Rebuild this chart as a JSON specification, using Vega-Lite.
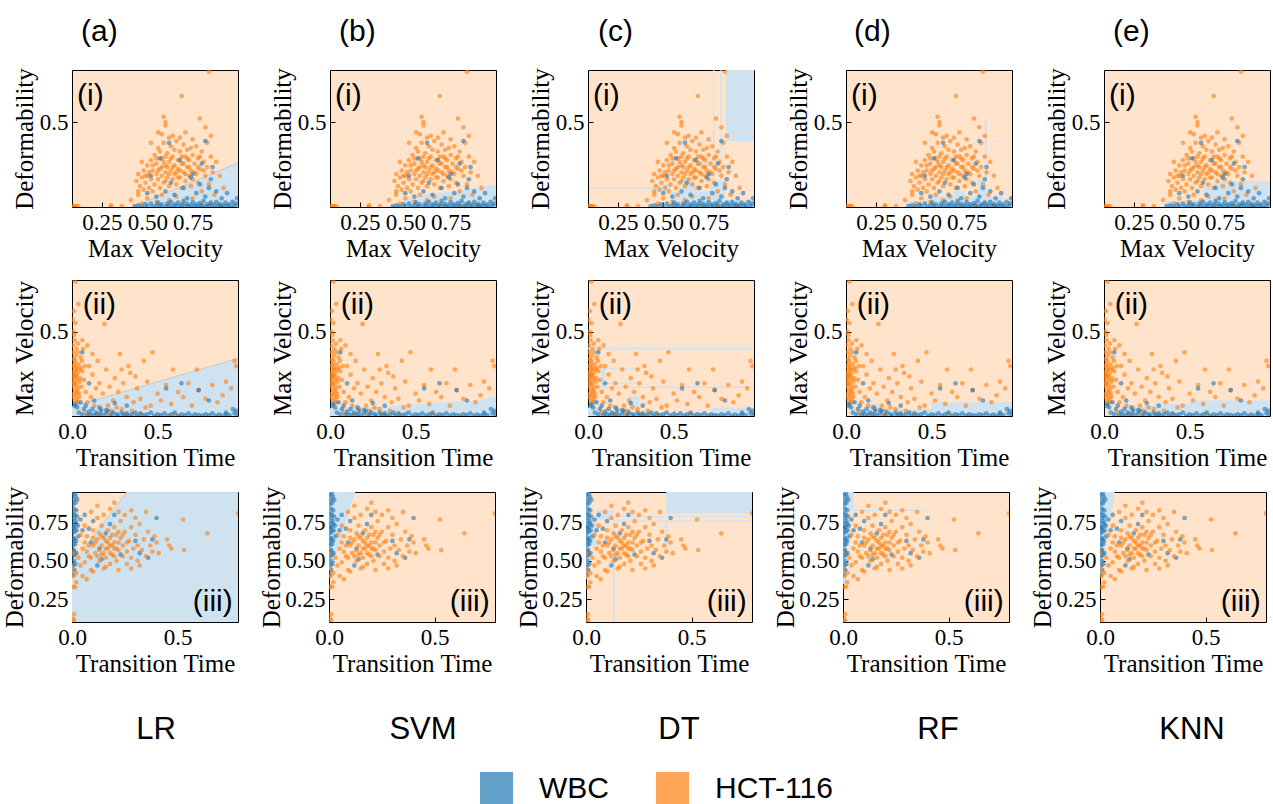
{
"$schema":"https://vega.github.io/schema/vega-lite/v6.json",
"padding":{"left":2,"top":16,"right":2,"bottom":0},
"config":{
 "view":{"fill":"#ffe3cb","stroke":"#000000","strokeWidth":1},
 "axis":{"labelFont":"Liberation Serif","labelFontSize":23,"titleFont":"Liberation Serif","titleFontSize":25,"titleFontWeight":"normal","labelColor":"#000","titleColor":"#000","tickColor":"#000","tickSize":-5,"labelPadding":9,"domain":false,"grid":false,"titlePadding":2,"labelFlush":false,"labelOverlap":false},
 "title":{"font":"Liberation Sans","fontSize":30,"fontWeight":"normal","color":"#000","frame":"group"},
 "legend":{"orient":"none","legendX":408,"legendY":702,"direction":"horizontal","title":null,"symbolType":"square","symbolSize":1089,"symbolOpacity":0.7,"symbolStrokeWidth":0,"labelFont":"Liberation Sans","labelFontSize":30,"labelOffset":26,"columnPadding":47,"labelColor":"#000"}
},
"datasets":{
"r1":[
{"x":0.09,"y":0.015,"c":"HCT-116"},{"x":0.1,"y":0.015,"c":"HCT-116"},{"x":0.11,"y":0.015,"c":"HCT-116"},{"x":0.12,"y":0.012,"c":"HCT-116"},{"x":0.3,"y":0.02,"c":"HCT-116"},{"x":0.3,"y":0.012,"c":"HCT-116"},{"x":0.36,"y":0.015,"c":"HCT-116"},
{"x":0.41,"y":0.05,"c":"HCT-116"},{"x":0.45,"y":0.08,"c":"HCT-116"},{"x":0.47,"y":0.03,"c":"HCT-116"},{"x":0.5,"y":0.06,"c":"HCT-116"},{"x":0.48,"y":0.11,"c":"HCT-116"},
{"x":0.44,"y":0.16,"c":"HCT-116"},{"x":0.45,"y":0.2,"c":"HCT-116"},{"x":0.46,"y":0.13,"c":"HCT-116"},{"x":0.47,"y":0.18,"c":"HCT-116"},{"x":0.48,"y":0.22,"c":"HCT-116"},{"x":0.49,"y":0.15,"c":"HCT-116"},{"x":0.5,"y":0.25,"c":"HCT-116"},{"x":0.5,"y":0.19,"c":"HCT-116"},{"x":0.51,"y":0.12,"c":"HCT-116"},{"x":0.52,"y":0.28,"c":"HCT-116"},{"x":0.52,"y":0.17,"c":"HCT-116"},{"x":0.53,"y":0.22,"c":"HCT-116"},{"x":0.53,"y":0.1,"c":"HCT-116"},{"x":0.54,"y":0.31,"c":"HCT-116"},{"x":0.54,"y":0.14,"c":"HCT-116"},{"x":0.55,"y":0.2,"c":"HCT-116"},{"x":0.55,"y":0.26,"c":"HCT-116"},{"x":0.56,"y":0.35,"c":"HCT-116"},{"x":0.56,"y":0.17,"c":"HCT-116"},{"x":0.57,"y":0.23,"c":"HCT-116"},{"x":0.57,"y":0.12,"c":"HCT-116"},{"x":0.58,"y":0.29,"c":"HCT-116"},{"x":0.58,"y":0.19,"c":"HCT-116"},{"x":0.59,"y":0.38,"c":"HCT-116"},{"x":0.59,"y":0.15,"c":"HCT-116"},{"x":0.6,"y":0.25,"c":"HCT-116"},{"x":0.6,"y":0.21,"c":"HCT-116"},{"x":0.61,"y":0.32,"c":"HCT-116"},{"x":0.61,"y":0.18,"c":"HCT-116"},{"x":0.62,"y":0.27,"c":"HCT-116"},{"x":0.62,"y":0.13,"c":"HCT-116"},{"x":0.63,"y":0.36,"c":"HCT-116"},{"x":0.63,"y":0.22,"c":"HCT-116"},{"x":0.64,"y":0.3,"c":"HCT-116"},{"x":0.64,"y":0.17,"c":"HCT-116"},{"x":0.65,"y":0.25,"c":"HCT-116"},{"x":0.65,"y":0.2,"c":"HCT-116"},{"x":0.66,"y":0.39,"c":"HCT-116"},{"x":0.66,"y":0.14,"c":"HCT-116"},{"x":0.67,"y":0.28,"c":"HCT-116"},{"x":0.67,"y":0.23,"c":"HCT-116"},{"x":0.68,"y":0.33,"c":"HCT-116"},{"x":0.68,"y":0.18,"c":"HCT-116"},{"x":0.69,"y":0.26,"c":"HCT-116"},{"x":0.69,"y":0.12,"c":"HCT-116"},{"x":0.7,"y":0.37,"c":"HCT-116"},{"x":0.7,"y":0.21,"c":"HCT-116"},{"x":0.71,"y":0.3,"c":"HCT-116"},{"x":0.71,"y":0.16,"c":"HCT-116"},{"x":0.72,"y":0.24,"c":"HCT-116"},{"x":0.72,"y":0.34,"c":"HCT-116"},{"x":0.73,"y":0.19,"c":"HCT-116"},{"x":0.73,"y":0.28,"c":"HCT-116"},{"x":0.74,"y":0.22,"c":"HCT-116"},{"x":0.74,"y":0.13,"c":"HCT-116"},{"x":0.75,"y":0.31,"c":"HCT-116"},{"x":0.75,"y":0.17,"c":"HCT-116"},{"x":0.76,"y":0.26,"c":"HCT-116"},{"x":0.77,"y":0.36,"c":"HCT-116"},{"x":0.77,"y":0.2,"c":"HCT-116"},{"x":0.78,"y":0.15,"c":"HCT-116"},{"x":0.78,"y":0.29,"c":"HCT-116"},{"x":0.79,"y":0.23,"c":"HCT-116"},{"x":0.8,"y":0.33,"c":"HCT-116"},{"x":0.8,"y":0.1,"c":"HCT-116"},{"x":0.81,"y":0.27,"c":"HCT-116"},{"x":0.82,"y":0.19,"c":"HCT-116"},{"x":0.83,"y":0.38,"c":"HCT-116"},{"x":0.83,"y":0.24,"c":"HCT-116"},{"x":0.84,"y":0.14,"c":"HCT-116"},{"x":0.85,"y":0.3,"c":"HCT-116"},{"x":0.86,"y":0.21,"c":"HCT-116"},{"x":0.87,"y":0.08,"c":"HCT-116"},{"x":0.88,"y":0.27,"c":"HCT-116"},
{"x":0.55,"y":0.29,"c":"HCT-116"},{"x":0.57,"y":0.33,"c":"HCT-116"},{"x":0.59,"y":0.27,"c":"HCT-116"},{"x":0.6,"y":0.16,"c":"HCT-116"},{"x":0.61,"y":0.24,"c":"HCT-116"},{"x":0.62,"y":0.2,"c":"HCT-116"},{"x":0.63,"y":0.29,"c":"HCT-116"},{"x":0.64,"y":0.24,"c":"HCT-116"},{"x":0.65,"y":0.34,"c":"HCT-116"},{"x":0.66,"y":0.21,"c":"HCT-116"},{"x":0.67,"y":0.18,"c":"HCT-116"},{"x":0.68,"y":0.22,"c":"HCT-116"},{"x":0.69,"y":0.3,"c":"HCT-116"},{"x":0.7,"y":0.26,"c":"HCT-116"},{"x":0.71,"y":0.2,"c":"HCT-116"},{"x":0.72,"y":0.29,"c":"HCT-116"},{"x":0.73,"y":0.24,"c":"HCT-116"},{"x":0.74,"y":0.35,"c":"HCT-116"},{"x":0.76,"y":0.21,"c":"HCT-116"},{"x":0.78,"y":0.24,"c":"HCT-116"},{"x":0.79,"y":0.3,"c":"HCT-116"},{"x":0.81,"y":0.22,"c":"HCT-116"},{"x":0.53,"y":0.25,"c":"HCT-116"},{"x":0.51,"y":0.21,"c":"HCT-116"},{"x":0.49,"y":0.19,"c":"HCT-116"},{"x":0.56,"y":0.22,"c":"HCT-116"},{"x":0.58,"y":0.24,"c":"HCT-116"},{"x":0.6,"y":0.3,"c":"HCT-116"},{"x":0.62,"y":0.41,"c":"HCT-116"},{"x":0.64,"y":0.42,"c":"HCT-116"},{"x":0.68,"y":0.41,"c":"HCT-116"},{"x":0.71,"y":0.44,"c":"HCT-116"},{"x":0.75,"y":0.4,"c":"HCT-116"},{"x":0.58,"y":0.43,"c":"HCT-116"},{"x":0.56,"y":0.44,"c":"HCT-116"},{"x":0.6,"y":0.48,"c":"HCT-116"},
{"x":0.59,"y":0.53,"c":"HCT-116"},{"x":0.6,"y":0.5,"c":"HCT-116"},{"x":0.79,"y":0.52,"c":"HCT-116"},{"x":0.69,"y":0.65,"c":"HCT-116"},{"x":0.84,"y":0.79,"c":"HCT-116"},{"x":0.82,"y":0.47,"c":"HCT-116"},{"x":0.52,"y":0.38,"c":"HCT-116"},{"x":0.47,"y":0.27,"c":"HCT-116"},{"x":0.45,"y":0.1,"c":"HCT-116"},{"x":0.9,"y":0.19,"c":"HCT-116"},{"x":0.92,"y":0.12,"c":"HCT-116"},{"x":0.85,"y":0.42,"c":"HCT-116"},
{"x":0.55,"y":0.04,"c":"HCT-116"},{"x":0.62,"y":0.05,"c":"HCT-116"},{"x":0.7,"y":0.03,"c":"HCT-116"},{"x":0.75,"y":0.06,"c":"HCT-116"},{"x":0.8,"y":0.02,"c":"HCT-116"},{"x":0.85,"y":0.03,"c":"HCT-116"},{"x":0.9,"y":0.02,"c":"HCT-116"},{"x":0.66,"y":0.07,"c":"HCT-116"},{"x":0.58,"y":0.08,"c":"HCT-116"},
{"x":0.43,"y":0.015,"c":"WBC"},{"x":0.45,"y":0.02,"c":"WBC"},{"x":0.47,"y":0.012,"c":"WBC"},{"x":0.49,"y":0.025,"c":"WBC"},{"x":0.5,"y":0.015,"c":"WBC"},{"x":0.52,"y":0.03,"c":"WBC"},{"x":0.53,"y":0.012,"c":"WBC"},{"x":0.55,"y":0.02,"c":"WBC"},{"x":0.56,"y":0.035,"c":"WBC"},{"x":0.57,"y":0.015,"c":"WBC"},{"x":0.58,"y":0.025,"c":"WBC"},{"x":0.6,"y":0.012,"c":"WBC"},{"x":0.61,"y":0.03,"c":"WBC"},{"x":0.62,"y":0.018,"c":"WBC"},{"x":0.63,"y":0.04,"c":"WBC"},{"x":0.64,"y":0.012,"c":"WBC"},{"x":0.65,"y":0.025,"c":"WBC"},{"x":0.66,"y":0.015,"c":"WBC"},{"x":0.67,"y":0.035,"c":"WBC"},{"x":0.68,"y":0.012,"c":"WBC"},{"x":0.69,"y":0.022,"c":"WBC"},{"x":0.7,"y":0.045,"c":"WBC"},{"x":0.71,"y":0.015,"c":"WBC"},{"x":0.72,"y":0.028,"c":"WBC"},{"x":0.73,"y":0.012,"c":"WBC"},{"x":0.74,"y":0.02,"c":"WBC"},{"x":0.75,"y":0.038,"c":"WBC"},{"x":0.76,"y":0.015,"c":"WBC"},{"x":0.77,"y":0.025,"c":"WBC"},{"x":0.78,"y":0.012,"c":"WBC"},{"x":0.79,"y":0.032,"c":"WBC"},{"x":0.8,"y":0.018,"c":"WBC"},{"x":0.81,"y":0.045,"c":"WBC"},{"x":0.82,"y":0.012,"c":"WBC"},{"x":0.83,"y":0.025,"c":"WBC"},{"x":0.84,"y":0.015,"c":"WBC"},{"x":0.85,"y":0.035,"c":"WBC"},{"x":0.86,"y":0.012,"c":"WBC"},{"x":0.87,"y":0.022,"c":"WBC"},{"x":0.88,"y":0.04,"c":"WBC"},{"x":0.89,"y":0.015,"c":"WBC"},{"x":0.9,"y":0.028,"c":"WBC"},{"x":0.91,"y":0.012,"c":"WBC"},{"x":0.92,"y":0.02,"c":"WBC"},{"x":0.93,"y":0.035,"c":"WBC"},{"x":0.94,"y":0.015,"c":"WBC"},{"x":0.95,"y":0.025,"c":"WBC"},{"x":0.96,"y":0.012,"c":"WBC"},{"x":0.97,"y":0.04,"c":"WBC"},{"x":0.98,"y":0.018,"c":"WBC"},{"x":0.99,"y":0.03,"c":"WBC"},{"x":0.995,"y":0.06,"c":"WBC"},
{"x":0.5,"y":0.09,"c":"WBC"},{"x":0.55,"y":0.07,"c":"WBC"},{"x":0.6,"y":0.1,"c":"WBC"},{"x":0.63,"y":0.15,"c":"WBC"},{"x":0.65,"y":0.08,"c":"WBC"},{"x":0.68,"y":0.28,"c":"WBC"},{"x":0.7,"y":0.12,"c":"WBC"},{"x":0.72,"y":0.06,"c":"WBC"},{"x":0.75,"y":0.2,"c":"WBC"},{"x":0.77,"y":0.09,"c":"WBC"},{"x":0.79,"y":0.14,"c":"WBC"},{"x":0.8,"y":0.26,"c":"WBC"},{"x":0.82,"y":0.07,"c":"WBC"},{"x":0.84,"y":0.12,"c":"WBC"},{"x":0.86,"y":0.24,"c":"WBC"},{"x":0.88,"y":0.1,"c":"WBC"},{"x":0.91,"y":0.06,"c":"WBC"},{"x":0.94,"y":0.09,"c":"WBC"},{"x":0.62,"y":0.38,"c":"WBC"},{"x":0.82,"y":0.39,"c":"WBC"},{"x":0.52,"y":0.19,"c":"WBC"},{"x":0.57,"y":0.29,"c":"WBC"},{"x":0.74,"y":0.18,"c":"WBC"},{"x":0.85,"y":0.17,"c":"WBC"}
],
"r2":[
{"x":0.005,"y":0.42,"c":"HCT-116"},{"x":0.01,"y":0.38,"c":"HCT-116"},{"x":0.015,"y":0.45,"c":"HCT-116"},{"x":0.02,"y":0.33,"c":"HCT-116"},{"x":0.008,"y":0.3,"c":"HCT-116"},{"x":0.012,"y":0.27,"c":"HCT-116"},{"x":0.018,"y":0.24,"c":"HCT-116"},{"x":0.022,"y":0.36,"c":"HCT-116"},{"x":0.025,"y":0.29,"c":"HCT-116"},{"x":0.03,"y":0.22,"c":"HCT-116"},{"x":0.005,"y":0.2,"c":"HCT-116"},{"x":0.01,"y":0.18,"c":"HCT-116"},{"x":0.015,"y":0.25,"c":"HCT-116"},{"x":0.02,"y":0.16,"c":"HCT-116"},{"x":0.028,"y":0.19,"c":"HCT-116"},{"x":0.033,"y":0.26,"c":"HCT-116"},{"x":0.038,"y":0.31,"c":"HCT-116"},{"x":0.04,"y":0.14,"c":"HCT-116"},{"x":0.045,"y":0.21,"c":"HCT-116"},{"x":0.006,"y":0.12,"c":"HCT-116"},{"x":0.012,"y":0.14,"c":"HCT-116"},{"x":0.018,"y":0.1,"c":"HCT-116"},{"x":0.024,"y":0.13,"c":"HCT-116"},{"x":0.03,"y":0.11,"c":"HCT-116"},{"x":0.035,"y":0.17,"c":"HCT-116"},{"x":0.042,"y":0.28,"c":"HCT-116"},{"x":0.048,"y":0.23,"c":"HCT-116"},{"x":0.05,"y":0.35,"c":"HCT-116"},{"x":0.055,"y":0.18,"c":"HCT-116"},{"x":0.06,"y":0.27,"c":"HCT-116"},{"x":0.008,"y":0.5,"c":"HCT-116"},{"x":0.014,"y":0.48,"c":"HCT-116"},{"x":0.02,"y":0.55,"c":"HCT-116"},{"x":0.01,"y":0.34,"c":"HCT-116"},{"x":0.016,"y":0.31,"c":"HCT-116"},{"x":0.026,"y":0.4,"c":"HCT-116"},{"x":0.034,"y":0.43,"c":"HCT-116"},{"x":0.037,"y":0.38,"c":"HCT-116"},{"x":0.004,"y":0.25,"c":"HCT-116"},{"x":0.009,"y":0.23,"c":"HCT-116"},{"x":0.013,"y":0.21,"c":"HCT-116"},{"x":0.017,"y":0.2,"c":"HCT-116"},{"x":0.021,"y":0.28,"c":"HCT-116"},{"x":0.027,"y":0.24,"c":"HCT-116"},{"x":0.031,"y":0.15,"c":"HCT-116"},{"x":0.036,"y":0.09,"c":"HCT-116"},{"x":0.043,"y":0.12,"c":"HCT-116"},{"x":0.052,"y":0.29,"c":"HCT-116"},{"x":0.058,"y":0.33,"c":"HCT-116"},{"x":0.065,"y":0.4,"c":"HCT-116"},{"x":0.07,"y":0.22,"c":"HCT-116"},{"x":0.075,"y":0.3,"c":"HCT-116"},{"x":0.02,"y":0.79,"c":"HCT-116"},{"x":0.037,"y":0.66,"c":"HCT-116"},{"x":0.003,"y":0.57,"c":"HCT-116"},{"x":0.011,"y":0.62,"c":"HCT-116"},
{"x":0.19,"y":0.545,"c":"HCT-116"},{"x":0.28,"y":0.37,"c":"HCT-116"},{"x":0.47,"y":0.38,"c":"HCT-116"},{"x":0.42,"y":0.33,"c":"HCT-116"},{"x":0.59,"y":0.28,"c":"HCT-116"},{"x":0.73,"y":0.28,"c":"HCT-116"},{"x":0.96,"y":0.3,"c":"HCT-116"},{"x":0.95,"y":0.33,"c":"HCT-116"},{"x":0.1,"y":0.3,"c":"HCT-116"},{"x":0.12,"y":0.25,"c":"HCT-116"},{"x":0.15,"y":0.33,"c":"HCT-116"},{"x":0.16,"y":0.2,"c":"HCT-116"},{"x":0.18,"y":0.14,"c":"HCT-116"},{"x":0.2,"y":0.28,"c":"HCT-116"},{"x":0.22,"y":0.18,"c":"HCT-116"},{"x":0.24,"y":0.1,"c":"HCT-116"},{"x":0.25,"y":0.23,"c":"HCT-116"},{"x":0.27,"y":0.15,"c":"HCT-116"},{"x":0.3,"y":0.2,"c":"HCT-116"},{"x":0.32,"y":0.12,"c":"HCT-116"},{"x":0.34,"y":0.26,"c":"HCT-116"},{"x":0.36,"y":0.09,"c":"HCT-116"},{"x":0.38,"y":0.17,"c":"HCT-116"},{"x":0.4,"y":0.11,"c":"HCT-116"},{"x":0.44,"y":0.21,"c":"HCT-116"},{"x":0.46,"y":0.07,"c":"HCT-116"},{"x":0.5,"y":0.14,"c":"HCT-116"},{"x":0.52,"y":0.1,"c":"HCT-116"},{"x":0.55,"y":0.19,"c":"HCT-116"},{"x":0.58,"y":0.08,"c":"HCT-116"},{"x":0.62,"y":0.15,"c":"HCT-116"},{"x":0.65,"y":0.12,"c":"HCT-116"},{"x":0.68,"y":0.2,"c":"HCT-116"},{"x":0.7,"y":0.07,"c":"HCT-116"},{"x":0.74,"y":0.16,"c":"HCT-116"},{"x":0.78,"y":0.11,"c":"HCT-116"},{"x":0.82,"y":0.19,"c":"HCT-116"},{"x":0.85,"y":0.09,"c":"HCT-116"},{"x":0.88,"y":0.13,"c":"HCT-116"},{"x":0.9,"y":0.21,"c":"HCT-116"},{"x":0.93,"y":0.17,"c":"HCT-116"},{"x":0.08,"y":0.15,"c":"HCT-116"},{"x":0.09,"y":0.09,"c":"HCT-116"},{"x":0.11,"y":0.12,"c":"HCT-116"},{"x":0.13,"y":0.07,"c":"HCT-116"},{"x":0.14,"y":0.17,"c":"HCT-116"},{"x":0.17,"y":0.05,"c":"HCT-116"},{"x":0.21,"y":0.07,"c":"HCT-116"},{"x":0.23,"y":0.04,"c":"HCT-116"},{"x":0.26,"y":0.06,"c":"HCT-116"},{"x":0.29,"y":0.05,"c":"HCT-116"},{"x":0.35,"y":0.04,"c":"HCT-116"},{"x":0.43,"y":0.06,"c":"HCT-116"},{"x":0.33,"y":0.3,"c":"HCT-116"},{"x":0.37,"y":0.24,"c":"HCT-116"},{"x":0.12,"y":0.37,"c":"HCT-116"},{"x":0.09,"y":0.42,"c":"HCT-116"},{"x":0.06,"y":0.45,"c":"HCT-116"},{"x":0.29,"y":0.28,"c":"HCT-116"},
{"x":0.15,"y":0.02,"c":"HCT-116"},{"x":0.22,"y":0.015,"c":"HCT-116"},{"x":0.31,"y":0.02,"c":"HCT-116"},{"x":0.4,"y":0.018,"c":"HCT-116"},{"x":0.6,"y":0.02,"c":"HCT-116"},{"x":0.08,"y":0.03,"c":"HCT-116"},
{"x":0.04,"y":0.03,"c":"WBC"},{"x":0.06,"y":0.02,"c":"WBC"},{"x":0.07,"y":0.05,"c":"WBC"},{"x":0.09,"y":0.015,"c":"WBC"},{"x":0.1,"y":0.035,"c":"WBC"},{"x":0.11,"y":0.02,"c":"WBC"},{"x":0.12,"y":0.05,"c":"WBC"},{"x":0.13,"y":0.015,"c":"WBC"},{"x":0.14,"y":0.03,"c":"WBC"},{"x":0.16,"y":0.02,"c":"WBC"},{"x":0.17,"y":0.04,"c":"WBC"},{"x":0.18,"y":0.015,"c":"WBC"},{"x":0.2,"y":0.025,"c":"WBC"},{"x":0.21,"y":0.04,"c":"WBC"},{"x":0.23,"y":0.015,"c":"WBC"},{"x":0.24,"y":0.03,"c":"WBC"},{"x":0.26,"y":0.02,"c":"WBC"},{"x":0.27,"y":0.012,"c":"WBC"},{"x":0.29,"y":0.03,"c":"WBC"},{"x":0.3,"y":0.015,"c":"WBC"},{"x":0.32,"y":0.025,"c":"WBC"},{"x":0.33,"y":0.012,"c":"WBC"},{"x":0.35,"y":0.02,"c":"WBC"},{"x":0.37,"y":0.03,"c":"WBC"},{"x":0.38,"y":0.012,"c":"WBC"},{"x":0.4,"y":0.025,"c":"WBC"},{"x":0.42,"y":0.015,"c":"WBC"},{"x":0.44,"y":0.02,"c":"WBC"},{"x":0.46,"y":0.03,"c":"WBC"},{"x":0.48,"y":0.012,"c":"WBC"},{"x":0.5,"y":0.02,"c":"WBC"},{"x":0.52,"y":0.015,"c":"WBC"},{"x":0.54,"y":0.025,"c":"WBC"},{"x":0.56,"y":0.012,"c":"WBC"},{"x":0.58,"y":0.02,"c":"WBC"},{"x":0.6,"y":0.03,"c":"WBC"},{"x":0.62,"y":0.012,"c":"WBC"},{"x":0.64,"y":0.02,"c":"WBC"},{"x":0.66,"y":0.015,"c":"WBC"},{"x":0.68,"y":0.025,"c":"WBC"},{"x":0.7,"y":0.012,"c":"WBC"},{"x":0.72,"y":0.02,"c":"WBC"},{"x":0.74,"y":0.015,"c":"WBC"},{"x":0.76,"y":0.012,"c":"WBC"},{"x":0.78,"y":0.02,"c":"WBC"},{"x":0.8,"y":0.015,"c":"WBC"},{"x":0.82,"y":0.025,"c":"WBC"},{"x":0.84,"y":0.012,"c":"WBC"},{"x":0.86,"y":0.018,"c":"WBC"},{"x":0.88,"y":0.012,"c":"WBC"},{"x":0.9,"y":0.02,"c":"WBC"},{"x":0.92,"y":0.015,"c":"WBC"},{"x":0.94,"y":0.05,"c":"WBC"},{"x":0.95,"y":0.025,"c":"WBC"},{"x":0.96,"y":0.04,"c":"WBC"},{"x":0.97,"y":0.015,"c":"WBC"},
{"x":0.02,"y":0.08,"c":"WBC"},{"x":0.03,"y":0.06,"c":"WBC"},{"x":0.05,"y":0.09,"c":"WBC"},{"x":0.08,"y":0.07,"c":"WBC"},{"x":0.1,"y":0.2,"c":"WBC"},{"x":0.06,"y":0.38,"c":"WBC"},{"x":0.13,"y":0.1,"c":"WBC"},{"x":0.16,"y":0.06,"c":"WBC"},{"x":0.25,"y":0.085,"c":"WBC"},{"x":0.32,"y":0.07,"c":"WBC"},{"x":0.55,"y":0.17,"c":"WBC"},{"x":0.64,"y":0.2,"c":"WBC"},{"x":0.74,"y":0.16,"c":"WBC"},{"x":0.8,"y":0.1,"c":"WBC"},{"x":0.9,"y":0.03,"c":"WBC"},{"x":0.015,"y":0.07,"c":"WBC"},{"x":0.2,"y":0.045,"c":"WBC"}
],
"r3":[
{"x":0.003,"y":0.93,"c":"WBC"},{"x":0.008,"y":0.9,"c":"WBC"},{"x":0.013,"y":0.94,"c":"WBC"},{"x":0.005,"y":0.87,"c":"WBC"},{"x":0.01,"y":0.84,"c":"WBC"},{"x":0.016,"y":0.88,"c":"WBC"},{"x":0.004,"y":0.81,"c":"WBC"},{"x":0.009,"y":0.78,"c":"WBC"},{"x":0.014,"y":0.8,"c":"WBC"},{"x":0.02,"y":0.83,"c":"WBC"},{"x":0.006,"y":0.75,"c":"WBC"},{"x":0.011,"y":0.72,"c":"WBC"},{"x":0.017,"y":0.76,"c":"WBC"},{"x":0.022,"y":0.7,"c":"WBC"},{"x":0.003,"y":0.68,"c":"WBC"},{"x":0.008,"y":0.65,"c":"WBC"},{"x":0.013,"y":0.69,"c":"WBC"},{"x":0.019,"y":0.63,"c":"WBC"},{"x":0.005,"y":0.6,"c":"WBC"},{"x":0.01,"y":0.57,"c":"WBC"},{"x":0.015,"y":0.61,"c":"WBC"},{"x":0.021,"y":0.55,"c":"WBC"},{"x":0.004,"y":0.53,"c":"WBC"},{"x":0.009,"y":0.5,"c":"WBC"},{"x":0.014,"y":0.54,"c":"WBC"},{"x":0.006,"y":0.47,"c":"WBC"},{"x":0.011,"y":0.44,"c":"WBC"},{"x":0.003,"y":0.41,"c":"WBC"},{"x":0.016,"y":0.48,"c":"WBC"},{"x":0.024,"y":0.79,"c":"WBC"},{"x":0.027,"y":0.73,"c":"WBC"},{"x":0.03,"y":0.66,"c":"WBC"},{"x":0.025,"y":0.9,"c":"WBC"},{"x":0.018,"y":0.92,"c":"WBC"},{"x":0.002,"y":0.72,"c":"WBC"},{"x":0.002,"y":0.62,"c":"WBC"},{"x":0.007,"y":0.71,"c":"WBC"},{"x":0.012,"y":0.64,"c":"WBC"},{"x":0.02,"y":0.74,"c":"WBC"},{"x":0.007,"y":0.56,"c":"WBC"},{"x":0.04,"y":0.77,"c":"WBC"},{"x":0.06,"y":0.8,"c":"WBC"},{"x":0.05,"y":0.7,"c":"WBC"},
{"x":0.09,"y":0.62,"c":"WBC"},{"x":0.13,"y":0.58,"c":"WBC"},{"x":0.16,"y":0.68,"c":"WBC"},{"x":0.18,"y":0.74,"c":"WBC"},{"x":0.23,"y":0.54,"c":"WBC"},{"x":0.3,"y":0.63,"c":"WBC"},{"x":0.32,"y":0.55,"c":"WBC"},{"x":0.36,"y":0.52,"c":"WBC"},{"x":0.38,"y":0.64,"c":"WBC"},{"x":0.4,"y":0.78,"c":"WBC"},{"x":0.12,"y":0.47,"c":"WBC"},{"x":0.2,"y":0.8,"c":"WBC"},{"x":0.1,"y":0.76,"c":"WBC"},{"x":0.08,"y":0.71,"c":"WBC"},{"x":0.14,"y":0.51,"c":"WBC"},
{"x":0.05,"y":0.58,"c":"HCT-116"},{"x":0.06,"y":0.49,"c":"HCT-116"},{"x":0.07,"y":0.66,"c":"HCT-116"},{"x":0.08,"y":0.53,"c":"HCT-116"},{"x":0.09,"y":0.44,"c":"HCT-116"},{"x":0.1,"y":0.6,"c":"HCT-116"},{"x":0.1,"y":0.7,"c":"HCT-116"},{"x":0.11,"y":0.55,"c":"HCT-116"},{"x":0.12,"y":0.64,"c":"HCT-116"},{"x":0.12,"y":0.78,"c":"HCT-116"},{"x":0.13,"y":0.5,"c":"HCT-116"},{"x":0.13,"y":0.68,"c":"HCT-116"},{"x":0.14,"y":0.6,"c":"HCT-116"},{"x":0.14,"y":0.73,"c":"HCT-116"},{"x":0.15,"y":0.55,"c":"HCT-116"},{"x":0.15,"y":0.45,"c":"HCT-116"},{"x":0.16,"y":0.63,"c":"HCT-116"},{"x":0.16,"y":0.52,"c":"HCT-116"},{"x":0.17,"y":0.7,"c":"HCT-116"},{"x":0.17,"y":0.58,"c":"HCT-116"},{"x":0.18,"y":0.48,"c":"HCT-116"},{"x":0.18,"y":0.65,"c":"HCT-116"},{"x":0.19,"y":0.6,"c":"HCT-116"},{"x":0.19,"y":0.54,"c":"HCT-116"},{"x":0.2,"y":0.72,"c":"HCT-116"},{"x":0.2,"y":0.62,"c":"HCT-116"},{"x":0.21,"y":0.5,"c":"HCT-116"},{"x":0.21,"y":0.67,"c":"HCT-116"},{"x":0.22,"y":0.57,"c":"HCT-116"},{"x":0.22,"y":0.44,"c":"HCT-116"},{"x":0.23,"y":0.65,"c":"HCT-116"},{"x":0.23,"y":0.76,"c":"HCT-116"},{"x":0.24,"y":0.53,"c":"HCT-116"},{"x":0.24,"y":0.6,"c":"HCT-116"},{"x":0.25,"y":0.69,"c":"HCT-116"},{"x":0.26,"y":0.56,"c":"HCT-116"},{"x":0.26,"y":0.48,"c":"HCT-116"},{"x":0.27,"y":0.63,"c":"HCT-116"},{"x":0.28,"y":0.52,"c":"HCT-116"},{"x":0.28,"y":0.72,"c":"HCT-116"},{"x":0.29,"y":0.58,"c":"HCT-116"},{"x":0.3,"y":0.67,"c":"HCT-116"},{"x":0.31,"y":0.5,"c":"HCT-116"},{"x":0.31,"y":0.6,"c":"HCT-116"},{"x":0.32,"y":0.74,"c":"HCT-116"},{"x":0.33,"y":0.57,"c":"HCT-116"},{"x":0.34,"y":0.64,"c":"HCT-116"},{"x":0.35,"y":0.53,"c":"HCT-116"},{"x":0.36,"y":0.69,"c":"HCT-116"},{"x":0.37,"y":0.6,"c":"HCT-116"},{"x":0.38,"y":0.56,"c":"HCT-116"},{"x":0.39,"y":0.66,"c":"HCT-116"},{"x":0.4,"y":0.62,"c":"HCT-116"},{"x":0.41,"y":0.55,"c":"HCT-116"},{"x":0.07,"y":0.56,"c":"HCT-116"},{"x":0.09,"y":0.52,"c":"HCT-116"},{"x":0.11,"y":0.62,"c":"HCT-116"},{"x":0.13,"y":0.57,"c":"HCT-116"},{"x":0.15,"y":0.65,"c":"HCT-116"},{"x":0.17,"y":0.62,"c":"HCT-116"},{"x":0.19,"y":0.67,"c":"HCT-116"},{"x":0.21,"y":0.58,"c":"HCT-116"},{"x":0.16,"y":0.58,"c":"HCT-116"},{"x":0.18,"y":0.55,"c":"HCT-116"},{"x":0.2,"y":0.53,"c":"HCT-116"},{"x":0.14,"y":0.54,"c":"HCT-116"},{"x":0.12,"y":0.53,"c":"HCT-116"},{"x":0.22,"y":0.62,"c":"HCT-116"},{"x":0.24,"y":0.67,"c":"HCT-116"},{"x":0.26,"y":0.62,"c":"HCT-116"},{"x":0.18,"y":0.6,"c":"HCT-116"},{"x":0.2,"y":0.58,"c":"HCT-116"},{"x":0.22,"y":0.69,"c":"HCT-116"},{"x":0.14,"y":0.66,"c":"HCT-116"},{"x":0.1,"y":0.65,"c":"HCT-116"},{"x":0.08,"y":0.6,"c":"HCT-116"},{"x":0.25,"y":0.8,"c":"HCT-116"},{"x":0.22,"y":0.82,"c":"HCT-116"},{"x":0.28,"y":0.83,"c":"HCT-116"},{"x":0.18,"y":0.84,"c":"HCT-116"},{"x":0.15,"y":0.8,"c":"HCT-116"},{"x":0.3,"y":0.78,"c":"HCT-116"},{"x":0.35,"y":0.82,"c":"HCT-116"},{"x":0.06,"y":0.73,"c":"HCT-116"},{"x":0.04,"y":0.67,"c":"HCT-116"},{"x":0.03,"y":0.52,"c":"HCT-116"},{"x":0.04,"y":0.47,"c":"HCT-116"},{"x":0.02,"y":0.42,"c":"HCT-116"},{"x":0.05,"y":0.4,"c":"HCT-116"},{"x":0.07,"y":0.38,"c":"HCT-116"},{"x":0.1,"y":0.43,"c":"HCT-116"},{"x":0.16,"y":0.46,"c":"HCT-116"},{"x":0.28,"y":0.45,"c":"HCT-116"},{"x":0.32,"y":0.47,"c":"HCT-116"},{"x":0.06,"y":0.62,"c":"HCT-116"},{"x":0.09,"y":0.82,"c":"HCT-116"},{"x":0.12,"y":0.86,"c":"HCT-116"},{"x":0.2,"y":0.88,"c":"HCT-116"},
{"x":0.525,"y":0.77,"c":"HCT-116"},{"x":0.64,"y":0.68,"c":"HCT-116"},{"x":0.785,"y":0.81,"c":"HCT-116"},{"x":0.45,"y":0.64,"c":"HCT-116"},{"x":0.47,"y":0.58,"c":"HCT-116"},{"x":0.53,"y":0.57,"c":"HCT-116"},{"x":0.46,"y":0.6,"c":"HCT-116"},
{"x":0.005,"y":0.12,"c":"HCT-116"},{"x":0.01,"y":0.11,"c":"HCT-116"},{"x":0.005,"y":0.33,"c":"HCT-116"},{"x":0.015,"y":0.33,"c":"HCT-116"},{"x":0.008,"y":0.4,"c":"HCT-116"},{"x":0.004,"y":0.45,"c":"HCT-116"},{"x":0.01,"y":0.15,"c":"HCT-116"},{"x":0.02,"y":0.36,"c":"HCT-116"},{"x":0.003,"y":0.55,"c":"HCT-116"}
]
},
"vconcat":[
{"vconcat":[
{"hconcat":[
 {"width":166,"height":137,"title":{"text":"(a)","anchor":"start","dx":9,"offset":21},
  "layer":[
   {"encoding":{"x":{"field":"x","type":"quantitative","scale":{"domain":[0.085,1.0],"nice":false,"zero":false},"axis":{"title":"Max Velocity","values":[0.25,0.5,0.75],"format":".2f"}},"y":{"field":"y","type":"quantitative","scale":{"domain":[0.01,0.8],"nice":false,"zero":false},"axis":{"title":"Deformability","values":[0.5],"format":".1f"}}},
    "layer":[
     {"data":{"values":[{"x":0.42,"y":0.01,"y2":0.01},{"x":1.0,"y":0.265,"y2":0.01}]},"mark":{"type":"area","color":"#cfe2ef","opacity":1,"clip":true,"line":{"color":"#c8c8c8","strokeWidth":1}},"encoding":{"y2":{"field":"y2"}}},
     {"data":{"name":"r1"},"mark":{"type":"circle","size":22,"opacity":0.6,"clip":true},"encoding":{"color":{"field":"c","type":"nominal","scale":{"domain":["WBC","HCT-116"],"range":["#1f77b4","#ff7f0e"]}}}}
    ]},
   {"data":{"values":[{"t":"(i)"}]},"mark":{"type":"text","font":"Liberation Sans","fontSize":30,"align":"left","baseline":"middle","color":"#000"},"encoding":{"x":{"datum":0.113,"type":"quantitative"},"y":{"datum":0.65,"type":"quantitative"},"text":{"field":"t","type":"nominal"}}}
  ]},
 {"width":166,"height":137,"title":{"text":"(b)","anchor":"start","dx":9,"offset":21},
  "layer":[
   {"encoding":{"x":{"field":"x","type":"quantitative","scale":{"domain":[0.085,1.0],"nice":false,"zero":false},"axis":{"title":"Max Velocity","values":[0.25,0.5,0.75],"format":".2f"}},"y":{"field":"y","type":"quantitative","scale":{"domain":[0.01,0.8],"nice":false,"zero":false},"axis":{"title":"Deformability","values":[0.5],"format":".1f"}}},
    "layer":[
     {"data":{"values":[{"x":0.42,"y":0.01,"y2":0.01},{"x":0.5,"y":0.05,"y2":0.01},{"x":0.6,"y":0.08,"y2":0.01},{"x":0.75,"y":0.1,"y2":0.01},{"x":0.9,"y":0.12,"y2":0.01},{"x":1.0,"y":0.14,"y2":0.01}]},"mark":{"type":"area","color":"#cfe2ef","opacity":1,"clip":true,"interpolate":"monotone"},"encoding":{"y2":{"field":"y2"}}},
     {"data":{"name":"r1"},"mark":{"type":"circle","size":22,"opacity":0.6,"clip":true},"encoding":{"color":{"field":"c","type":"nominal","scale":{"domain":["WBC","HCT-116"],"range":["#1f77b4","#ff7f0e"]}}}}
    ]},
   {"data":{"values":[{"t":"(i)"}]},"mark":{"type":"text","font":"Liberation Sans","fontSize":30,"align":"left","baseline":"middle","color":"#000"},"encoding":{"x":{"datum":0.113,"type":"quantitative"},"y":{"datum":0.65,"type":"quantitative"},"text":{"field":"t","type":"nominal"}}}
  ]},
 {"width":166,"height":137,"title":{"text":"(c)","anchor":"start","dx":10,"offset":21},
  "layer":[
   {"encoding":{"x":{"field":"x","type":"quantitative","scale":{"domain":[0.085,1.0],"nice":false,"zero":false},"axis":{"title":"Max Velocity","values":[0.25,0.5,0.75],"format":".2f"}},"y":{"field":"y","type":"quantitative","scale":{"domain":[0.01,0.8],"nice":false,"zero":false},"axis":{"title":"Deformability","values":[0.5],"format":".1f"}}},
    "layer":[
     {"data":{"values":[{"x":0.845,"x2":1.0,"y":0.39,"y2":0.8},{"x":0.54,"x2":0.84,"y":0.01,"y2":0.1},{"x":0.76,"x2":0.845,"y":0.1,"y2":0.16},{"x":0.445,"x2":0.54,"y":0.1,"y2":0.14},{"x":0.6,"x2":0.68,"y":0.1,"y2":0.17},{"x":0.09,"x2":0.445,"y":0.117,"y2":0.125},{"x":0.775,"x2":0.782,"y":0.16,"y2":0.8},{"x":0.815,"x2":0.822,"y":0.16,"y2":0.8},{"x":0.6,"x2":0.775,"y":0.386,"y2":0.394},{"x":0.845,"x2":1.0,"y":0.01,"y2":0.05},{"x":0.68,"x2":0.775,"y":0.255,"y2":0.262}]},"mark":{"type":"rect","color":"#cfe2ef","opacity":1,"clip":true},"encoding":{"x2":{"field":"x2"},"y2":{"field":"y2"}}},
     {"data":{"name":"r1"},"mark":{"type":"circle","size":22,"opacity":0.6,"clip":true},"encoding":{"color":{"field":"c","type":"nominal","scale":{"domain":["WBC","HCT-116"],"range":["#1f77b4","#ff7f0e"]}}}}
    ]},
   {"data":{"values":[{"t":"(i)"}]},"mark":{"type":"text","font":"Liberation Sans","fontSize":30,"align":"left","baseline":"middle","color":"#000"},"encoding":{"x":{"datum":0.113,"type":"quantitative"},"y":{"datum":0.65,"type":"quantitative"},"text":{"field":"t","type":"nominal"}}}
  ]},
 {"width":166,"height":137,"title":{"text":"(d)","anchor":"start","dx":8,"offset":21},
  "layer":[
   {"encoding":{"x":{"field":"x","type":"quantitative","scale":{"domain":[0.085,1.0],"nice":false,"zero":false},"axis":{"title":"Max Velocity","values":[0.25,0.5,0.75],"format":".2f"}},"y":{"field":"y","type":"quantitative","scale":{"domain":[0.01,0.8],"nice":false,"zero":false},"axis":{"title":"Deformability","values":[0.5],"format":".1f"}}},
    "layer":[
     {"data":{"values":[{"x":0.42,"x2":1.0,"y":0.01,"y2":0.045},{"x":0.55,"x2":0.95,"y":0.045,"y2":0.07},{"x":0.81,"x2":0.86,"y":0.07,"y2":0.17},{"x":0.85,"x2":0.86,"y":0.17,"y2":0.52},{"x":0.89,"x2":0.92,"y":0.386,"y2":0.394},{"x":0.68,"x2":0.74,"y":0.07,"y2":0.1}]},"mark":{"type":"rect","color":"#cfe2ef","opacity":1,"clip":true},"encoding":{"x2":{"field":"x2"},"y2":{"field":"y2"}}},
     {"data":{"name":"r1"},"mark":{"type":"circle","size":22,"opacity":0.6,"clip":true},"encoding":{"color":{"field":"c","type":"nominal","scale":{"domain":["WBC","HCT-116"],"range":["#1f77b4","#ff7f0e"]}}}}
    ]},
   {"data":{"values":[{"t":"(i)"}]},"mark":{"type":"text","font":"Liberation Sans","fontSize":30,"align":"left","baseline":"middle","color":"#000"},"encoding":{"x":{"datum":0.113,"type":"quantitative"},"y":{"datum":0.65,"type":"quantitative"},"text":{"field":"t","type":"nominal"}}}
  ]},
 {"width":166,"height":137,"title":{"text":"(e)","anchor":"start","dx":9,"offset":21},
  "layer":[
   {"encoding":{"x":{"field":"x","type":"quantitative","scale":{"domain":[0.085,1.0],"nice":false,"zero":false},"axis":{"title":"Max Velocity","values":[0.25,0.5,0.75],"format":".2f"}},"y":{"field":"y","type":"quantitative","scale":{"domain":[0.01,0.8],"nice":false,"zero":false},"axis":{"title":"Deformability","values":[0.5],"format":".1f"}}},
    "layer":[
     {"data":{"values":[{"x":0.42,"y":0.045,"y2":0.01},{"x":0.63,"y":0.05,"y2":0.01},{"x":0.635,"y":0.135,"y2":0.01},{"x":0.75,"y":0.16,"y2":0.01},{"x":1.0,"y":0.16,"y2":0.01}]},"mark":{"type":"area","color":"#cfe2ef","opacity":1,"clip":true},"encoding":{"y2":{"field":"y2"}}},
     {"data":{"name":"r1"},"mark":{"type":"circle","size":22,"opacity":0.6,"clip":true},"encoding":{"color":{"field":"c","type":"nominal","scale":{"domain":["WBC","HCT-116"],"range":["#1f77b4","#ff7f0e"]}}}}
    ]},
   {"data":{"values":[{"t":"(i)"}]},"mark":{"type":"text","font":"Liberation Sans","fontSize":30,"align":"left","baseline":"middle","color":"#000"},"encoding":{"x":{"datum":0.113,"type":"quantitative"},"y":{"datum":0.65,"type":"quantitative"},"text":{"field":"t","type":"nominal"}}}
  ]}
],"spacing":30},
{"hconcat":[
 {"width":166,"height":136,
  "layer":[
   {"encoding":{"x":{"field":"x","type":"quantitative","scale":{"domain":[0,0.97],"nice":false,"zero":false},"axis":{"title":"Transition Time","values":[0,0.5],"format":".1f"}},"y":{"field":"y","type":"quantitative","scale":{"domain":[0.01,0.8],"nice":false,"zero":false},"axis":{"title":"Max Velocity","values":[0.5],"format":".1f"}}},
    "layer":[
     {"data":{"values":[{"x":0,"y":0.064,"y2":0.01},{"x":0.97,"y":0.345,"y2":0.01}]},"mark":{"type":"area","color":"#cfe2ef","opacity":1,"clip":true,"line":{"color":"#c8c8c8","strokeWidth":1}},"encoding":{"y2":{"field":"y2"}}},
     {"data":{"name":"r2"},"mark":{"type":"circle","size":22,"opacity":0.6,"clip":true},"encoding":{"color":{"field":"c","type":"nominal","scale":{"domain":["WBC","HCT-116"],"range":["#1f77b4","#ff7f0e"]}}}}
    ]},
   {"data":{"values":[{"t":"(ii)"}]},"mark":{"type":"text","font":"Liberation Sans","fontSize":30,"align":"left","baseline":"middle","color":"#000"},"encoding":{"x":{"datum":0.063,"type":"quantitative"},"y":{"datum":0.657,"type":"quantitative"},"text":{"field":"t","type":"nominal"}}}
  ]},
 {"width":166,"height":136,
  "layer":[
   {"encoding":{"x":{"field":"x","type":"quantitative","scale":{"domain":[0,0.97],"nice":false,"zero":false},"axis":{"title":"Transition Time","values":[0,0.5],"format":".1f"}},"y":{"field":"y","type":"quantitative","scale":{"domain":[0.01,0.8],"nice":false,"zero":false},"axis":{"title":"Max Velocity","values":[0.5],"format":".1f"}}},
    "layer":[
     {"data":{"values":[{"x":0,"y":0.055,"y2":0.01},{"x":0.3,"y":0.065,"y2":0.01},{"x":0.6,"y":0.085,"y2":0.01},{"x":0.85,"y":0.1,"y2":0.01},{"x":0.97,"y":0.125,"y2":0.01}]},"mark":{"type":"area","color":"#cfe2ef","opacity":1,"clip":true,"interpolate":"monotone"},"encoding":{"y2":{"field":"y2"}}},
     {"data":{"name":"r2"},"mark":{"type":"circle","size":22,"opacity":0.6,"clip":true},"encoding":{"color":{"field":"c","type":"nominal","scale":{"domain":["WBC","HCT-116"],"range":["#1f77b4","#ff7f0e"]}}}}
    ]},
   {"data":{"values":[{"t":"(ii)"}]},"mark":{"type":"text","font":"Liberation Sans","fontSize":30,"align":"left","baseline":"middle","color":"#000"},"encoding":{"x":{"datum":0.063,"type":"quantitative"},"y":{"datum":0.657,"type":"quantitative"},"text":{"field":"t","type":"nominal"}}}
  ]},
 {"width":166,"height":136,
  "layer":[
   {"encoding":{"x":{"field":"x","type":"quantitative","scale":{"domain":[0,0.97],"nice":false,"zero":false},"axis":{"title":"Transition Time","values":[0,0.5],"format":".1f"}},"y":{"field":"y","type":"quantitative","scale":{"domain":[0.01,0.8],"nice":false,"zero":false},"axis":{"title":"Max Velocity","values":[0.5],"format":".1f"}}},
    "layer":[
     {"data":{"values":[{"x":0,"x2":0.08,"y":0.01,"y2":0.06},{"x":0.08,"x2":0.97,"y":0.01,"y2":0.03},{"x":0.235,"x2":0.3,"y":0.06,"y2":0.125},{"x":0.72,"x2":0.97,"y":0.03,"y2":0.06},{"x":0,"x2":0.97,"y":0.398,"y2":0.406},{"x":0.08,"x2":0.3,"y":0.283,"y2":0.291},{"x":0.08,"x2":0.97,"y":0.173,"y2":0.181},{"x":0.08,"x2":0.3,"y":0.196,"y2":0.204},{"x":0.08,"x2":0.1,"y":0.18,"y2":0.29}]},"mark":{"type":"rect","color":"#cfe2ef","opacity":1,"clip":true},"encoding":{"x2":{"field":"x2"},"y2":{"field":"y2"}}},
     {"data":{"name":"r2"},"mark":{"type":"circle","size":22,"opacity":0.6,"clip":true},"encoding":{"color":{"field":"c","type":"nominal","scale":{"domain":["WBC","HCT-116"],"range":["#1f77b4","#ff7f0e"]}}}}
    ]},
   {"data":{"values":[{"t":"(ii)"}]},"mark":{"type":"text","font":"Liberation Sans","fontSize":30,"align":"left","baseline":"middle","color":"#000"},"encoding":{"x":{"datum":0.063,"type":"quantitative"},"y":{"datum":0.657,"type":"quantitative"},"text":{"field":"t","type":"nominal"}}}
  ]},
 {"width":166,"height":136,
  "layer":[
   {"encoding":{"x":{"field":"x","type":"quantitative","scale":{"domain":[0,0.97],"nice":false,"zero":false},"axis":{"title":"Transition Time","values":[0,0.5],"format":".1f"}},"y":{"field":"y","type":"quantitative","scale":{"domain":[0.01,0.8],"nice":false,"zero":false},"axis":{"title":"Max Velocity","values":[0.5],"format":".1f"}}},
    "layer":[
     {"data":{"values":[{"x":0.03,"x2":0.97,"y":0.01,"y2":0.05},{"x":0.5,"x2":0.97,"y":0.05,"y2":0.09},{"x":0.12,"x2":0.2,"y":0.05,"y2":0.08}]},"mark":{"type":"rect","color":"#cfe2ef","opacity":1,"clip":true},"encoding":{"x2":{"field":"x2"},"y2":{"field":"y2"}}},
     {"data":{"name":"r2"},"mark":{"type":"circle","size":22,"opacity":0.6,"clip":true},"encoding":{"color":{"field":"c","type":"nominal","scale":{"domain":["WBC","HCT-116"],"range":["#1f77b4","#ff7f0e"]}}}}
    ]},
   {"data":{"values":[{"t":"(ii)"}]},"mark":{"type":"text","font":"Liberation Sans","fontSize":30,"align":"left","baseline":"middle","color":"#000"},"encoding":{"x":{"datum":0.063,"type":"quantitative"},"y":{"datum":0.657,"type":"quantitative"},"text":{"field":"t","type":"nominal"}}}
  ]},
 {"width":166,"height":136,
  "layer":[
   {"encoding":{"x":{"field":"x","type":"quantitative","scale":{"domain":[0,0.97],"nice":false,"zero":false},"axis":{"title":"Transition Time","values":[0,0.5],"format":".1f"}},"y":{"field":"y","type":"quantitative","scale":{"domain":[0.01,0.8],"nice":false,"zero":false},"axis":{"title":"Max Velocity","values":[0.5],"format":".1f"}}},
    "layer":[
     {"data":{"values":[{"x":0.02,"y":0.04,"y2":0.01},{"x":0.1,"y":0.07,"y2":0.01},{"x":0.3,"y":0.08,"y2":0.01},{"x":0.5,"y":0.1,"y2":0.01},{"x":0.97,"y":0.12,"y2":0.01}]},"mark":{"type":"area","color":"#cfe2ef","opacity":1,"clip":true,"interpolate":"step-after"},"encoding":{"y2":{"field":"y2"}}},
     {"data":{"name":"r2"},"mark":{"type":"circle","size":22,"opacity":0.6,"clip":true},"encoding":{"color":{"field":"c","type":"nominal","scale":{"domain":["WBC","HCT-116"],"range":["#1f77b4","#ff7f0e"]}}}}
    ]},
   {"data":{"values":[{"t":"(ii)"}]},"mark":{"type":"text","font":"Liberation Sans","fontSize":30,"align":"left","baseline":"middle","color":"#000"},"encoding":{"x":{"datum":0.063,"type":"quantitative"},"y":{"datum":0.657,"type":"quantitative"},"text":{"field":"t","type":"nominal"}}}
  ]}
],"spacing":30}
],"spacing":17},
{"hconcat":[
 {"width":166,"height":130,"title":{"text":"LR","orient":"bottom","anchor":"middle","dx":1,"offset":39,"fontSize":31},
  "layer":[
   {"encoding":{"x":{"field":"x","type":"quantitative","scale":{"domain":[0,0.785],"nice":false,"zero":false},"axis":{"title":"Transition Time","values":[0,0.5],"format":".1f"}},"y":{"field":"y","type":"quantitative","scale":{"domain":[0.1,0.95],"nice":false,"zero":false},"axis":{"title":"Deformability","values":[0.25,0.5,0.75],"format":".2f","titlePadding":0}}},
    "layer":[
     {"data":{"values":[{"x":0,"y":0.473,"y2":0.1},{"x":0.258,"y":0.95,"y2":0.1},{"x":0.785,"y":0.95,"y2":0.1}]},"mark":{"type":"area","color":"#cfe2ef","opacity":1,"clip":true,"line":{"color":"#c8c8c8","strokeWidth":1}},"encoding":{"y2":{"field":"y2"}}},
     {"data":{"name":"r3"},"mark":{"type":"circle","size":22,"opacity":0.6,"clip":true},"encoding":{"color":{"field":"c","type":"nominal","scale":{"domain":["WBC","HCT-116"],"range":["#1f77b4","#ff7f0e"]}}}}
    ]},
   {"data":{"values":[{"t":"(iii)"}]},"mark":{"type":"text","font":"Liberation Sans","fontSize":30,"align":"right","baseline":"middle","color":"#000"},"encoding":{"x":{"datum":0.76,"type":"quantitative"},"y":{"datum":0.23,"type":"quantitative"},"text":{"field":"t","type":"nominal"}}}
  ]},
 {"width":166,"height":130,"title":{"text":"SVM","orient":"bottom","anchor":"middle","dx":11,"offset":39,"fontSize":31},
  "layer":[
   {"encoding":{"x":{"field":"x","type":"quantitative","scale":{"domain":[0,0.785],"nice":false,"zero":false},"axis":{"title":"Transition Time","values":[0,0.5],"format":".1f"}},"y":{"field":"y","type":"quantitative","scale":{"domain":[0.1,0.95],"nice":false,"zero":false},"axis":{"title":"Deformability","values":[0.25,0.5,0.75],"format":".2f","titlePadding":0}}},
    "layer":[
     {"data":{"values":[{"y":0.43,"x":0,"x2":0},{"y":0.52,"x":0.03,"x2":0},{"y":0.7,"x":0.07,"x2":0},{"y":0.85,"x":0.1,"x2":0},{"y":0.95,"x":0.125,"x2":0}]},"mark":{"type":"area","orient":"horizontal","color":"#cfe2ef","opacity":1,"clip":true},"encoding":{"x2":{"field":"x2"}}},
     {"data":{"name":"r3"},"mark":{"type":"circle","size":22,"opacity":0.6,"clip":true},"encoding":{"color":{"field":"c","type":"nominal","scale":{"domain":["WBC","HCT-116"],"range":["#1f77b4","#ff7f0e"]}}}}
    ]},
   {"data":{"values":[{"t":"(iii)"}]},"mark":{"type":"text","font":"Liberation Sans","fontSize":30,"align":"right","baseline":"middle","color":"#000"},"encoding":{"x":{"datum":0.76,"type":"quantitative"},"y":{"datum":0.23,"type":"quantitative"},"text":{"field":"t","type":"nominal"}}}
  ]},
 {"width":166,"height":130,"title":{"text":"DT","orient":"bottom","anchor":"middle","dx":10,"offset":39,"fontSize":31},
  "layer":[
   {"encoding":{"x":{"field":"x","type":"quantitative","scale":{"domain":[0,0.785],"nice":false,"zero":false},"axis":{"title":"Transition Time","values":[0,0.5],"format":".1f"}},"y":{"field":"y","type":"quantitative","scale":{"domain":[0.1,0.95],"nice":false,"zero":false},"axis":{"title":"Deformability","values":[0.25,0.5,0.75],"format":".2f","titlePadding":0}}},
    "layer":[
     {"data":{"values":[{"x":0.38,"x2":0.785,"y":0.81,"y2":0.95},{"x":0.13,"x2":0.785,"y":0.785,"y2":0.793},{"x":0.13,"x2":0.785,"y":0.755,"y2":0.763},{"x":0,"x2":0.015,"y":0.38,"y2":0.95},{"x":0.015,"x2":0.05,"y":0.6,"y2":0.77},{"x":0.05,"x2":0.13,"y":0.77,"y2":0.83},{"x":0.128,"x2":0.136,"y":0.1,"y2":0.77},{"x":0.376,"x2":0.384,"y":0.55,"y2":0.77}]},"mark":{"type":"rect","color":"#cfe2ef","opacity":1,"clip":true},"encoding":{"x2":{"field":"x2"},"y2":{"field":"y2"}}},
     {"data":{"name":"r3"},"mark":{"type":"circle","size":22,"opacity":0.6,"clip":true},"encoding":{"color":{"field":"c","type":"nominal","scale":{"domain":["WBC","HCT-116"],"range":["#1f77b4","#ff7f0e"]}}}}
    ]},
   {"data":{"values":[{"t":"(iii)"}]},"mark":{"type":"text","font":"Liberation Sans","fontSize":30,"align":"right","baseline":"middle","color":"#000"},"encoding":{"x":{"datum":0.76,"type":"quantitative"},"y":{"datum":0.23,"type":"quantitative"},"text":{"field":"t","type":"nominal"}}}
  ]},
 {"width":166,"height":130,"title":{"text":"RF","orient":"bottom","anchor":"middle","dx":12,"offset":39,"fontSize":31},
  "layer":[
   {"encoding":{"x":{"field":"x","type":"quantitative","scale":{"domain":[0,0.785],"nice":false,"zero":false},"axis":{"title":"Transition Time","values":[0,0.5],"format":".1f"}},"y":{"field":"y","type":"quantitative","scale":{"domain":[0.1,0.95],"nice":false,"zero":false},"axis":{"title":"Deformability","values":[0.25,0.5,0.75],"format":".2f","titlePadding":0}}},
    "layer":[
     {"data":{"values":[{"x":0,"x2":0.018,"y":0.35,"y2":0.95},{"x":0.018,"x2":0.05,"y":0.83,"y2":0.95},{"x":0.05,"x2":0.38,"y":0.826,"y2":0.834},{"x":0.018,"x2":0.03,"y":0.6,"y2":0.75}]},"mark":{"type":"rect","color":"#cfe2ef","opacity":1,"clip":true},"encoding":{"x2":{"field":"x2"},"y2":{"field":"y2"}}},
     {"data":{"name":"r3"},"mark":{"type":"circle","size":22,"opacity":0.6,"clip":true},"encoding":{"color":{"field":"c","type":"nominal","scale":{"domain":["WBC","HCT-116"],"range":["#1f77b4","#ff7f0e"]}}}}
    ]},
   {"data":{"values":[{"t":"(iii)"}]},"mark":{"type":"text","font":"Liberation Sans","fontSize":30,"align":"right","baseline":"middle","color":"#000"},"encoding":{"x":{"datum":0.76,"type":"quantitative"},"y":{"datum":0.23,"type":"quantitative"},"text":{"field":"t","type":"nominal"}}}
  ]},
 {"width":166,"height":130,"title":{"text":"KNN","orient":"bottom","anchor":"middle","dx":9,"offset":39,"fontSize":31},
  "layer":[
   {"encoding":{"x":{"field":"x","type":"quantitative","scale":{"domain":[0,0.785],"nice":false,"zero":false},"axis":{"title":"Transition Time","values":[0,0.5],"format":".1f"}},"y":{"field":"y","type":"quantitative","scale":{"domain":[0.1,0.95],"nice":false,"zero":false},"axis":{"title":"Deformability","values":[0.25,0.5,0.75],"format":".2f","titlePadding":0}}},
    "layer":[
     {"data":{"values":[{"y":0.4,"x":0,"x2":0},{"y":0.45,"x":0.012,"x2":0},{"y":0.6,"x":0.025,"x2":0},{"y":0.75,"x":0.035,"x2":0},{"y":0.85,"x":0.06,"x2":0},{"y":0.95,"x":0.07,"x2":0}]},"mark":{"type":"area","orient":"horizontal","color":"#cfe2ef","opacity":1,"clip":true},"encoding":{"x2":{"field":"x2"}}},
     {"data":{"name":"r3"},"mark":{"type":"circle","size":22,"opacity":0.6,"clip":true},"encoding":{"color":{"field":"c","type":"nominal","scale":{"domain":["WBC","HCT-116"],"range":["#1f77b4","#ff7f0e"]}}}}
    ]},
   {"data":{"values":[{"t":"(iii)"}]},"mark":{"type":"text","font":"Liberation Sans","fontSize":30,"align":"right","baseline":"middle","color":"#000"},"encoding":{"x":{"datum":0.76,"type":"quantitative"},"y":{"datum":0.23,"type":"quantitative"},"text":{"field":"t","type":"nominal"}}}
  ]}
],"spacing":20}
],
"spacing":14
}
